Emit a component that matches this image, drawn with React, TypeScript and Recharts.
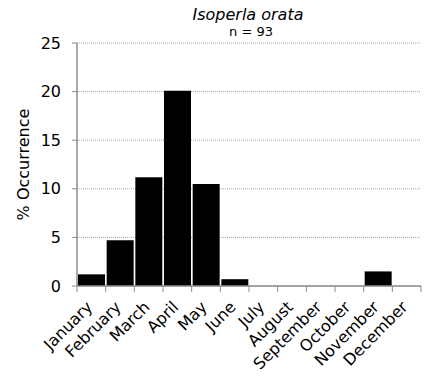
import React from 'react';
import { BarChart, Bar, XAxis, YAxis, CartesianGrid } from 'recharts';

const months = ['January', 'February', 'March', 'April', 'May', 'June', 'July', 'August', 'September', 'October', 'November', 'December'];
const occurrence = [1.2, 4.7, 11.2, 20.1, 10.5, 0.7, 0, 0, 0, 0, 1.5, 0];
const yTicks = [0, 5, 10, 15, 20, 25];

const data = months.map((m, i) => ({ month: m, value: occurrence[i] }));

const W = 428;
const H = 377;
const LEFT = 77;
const RIGHT = 7;
const TOP = 43;
const XH = 91;
const band = (W - LEFT - RIGHT) / months.length;
const FONT = 'DejaVu Sans, Verdana, sans-serif';

const MonthTick = (props: any) => {
  const { x, payload, index } = props;
  const left = x - band / 2;
  const ax = x + 2;
  const ay = H - XH + 22;
  return (
    <g>
      <line x1={left} y1={H - XH} x2={left} y2={H - XH + 6} stroke="#8c8c8c" />
      {index === months.length - 1 && (
        <line x1={left + band} y1={H - XH} x2={left + band} y2={H - XH + 6} stroke="#8c8c8c" />
      )}
      <text
        x={ax}
        y={ay}
        textAnchor="end"
        fontSize={16}
        fontFamily={FONT}
        fill="#000"
        transform={`rotate(-45, ${ax}, ${ay})`}
      >
        {payload.value}
      </text>
    </g>
  );
};

export default function App() {
  return (
    <div style={{ position: 'absolute', left: 0, top: 0, width: W, height: H, background: '#fff' }}>
      <BarChart
        width={W}
        height={H}
        data={data}
        margin={{ top: TOP, right: RIGHT, bottom: 0, left: 0 }}
        barCategoryGap={1}
      >
        <text x={248} y={20} textAnchor="middle" fontSize={16} fontStyle="italic" fontFamily={FONT} fill="#000">
          Isoperla orata
        </text>
        <text x={251} y={36} textAnchor="middle" fontSize={13} fontFamily={FONT} fill="#000">
          n = 93
        </text>
        <CartesianGrid vertical={false} stroke="#a6a6a6" strokeDasharray="1 1" />
        <XAxis
          dataKey="month"
          height={XH}
          interval={0}
          tickLine={false}
          axisLine={{ stroke: '#8c8c8c', strokeWidth: 1.5 }}
          tick={<MonthTick />}
        />
        <YAxis
          width={LEFT}
          domain={[0, 25]}
          ticks={yTicks}
          interval={0}
          tickSize={5}
          tickMargin={11}
          axisLine={{ stroke: '#8c8c8c', strokeWidth: 1.5 }}
          tickLine={{ stroke: '#8c8c8c' }}
          tick={{ fontSize: 16, fill: '#000', fontFamily: FONT }}
          label={{
            value: '% Occurrence',
            angle: -90,
            position: 'insideLeft',
            dx: 18,
            style: { fontSize: 16, fill: '#000', fontFamily: FONT, textAnchor: 'middle' },
          }}
        />
        <Bar dataKey="value" fill="#000" isAnimationActive={false} />
      </BarChart>
    </div>
  );
}
